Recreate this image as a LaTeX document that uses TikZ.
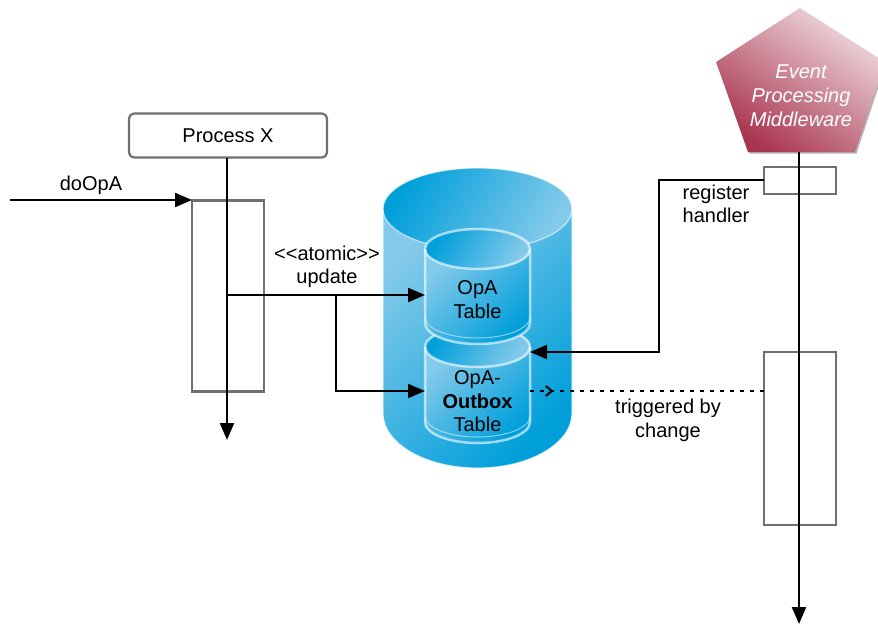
\documentclass[tikz,border=0pt]{standalone}
\usepackage{fontspec}
\setmainfont{Liberation Sans}
\usetikzlibrary{positioning,calc,arrows.meta,decorations.markings}
\definecolor{dblight}{HTML}{84CAEA}
\definecolor{dbdark}{HTML}{009FDA}
\definecolor{dbedge}{HTML}{FFFFFF}
\definecolor{epmlight}{HTML}{F0DDE1}
\definecolor{epmdark}{HTML}{A93550}
\definecolor{boxgray}{HTML}{707070}
\tikzstyle{flow} = [draw,line width=2.2pt,-{Triangle[length=17pt,width=14pt]}]
\tikzstyle{lifebox} = [draw=boxgray,line width=2.2pt,inner sep=0pt,outer sep=0pt,minimum width=72pt]
\tikzstyle{procbox} = [draw=boxgray,line width=2.2pt,rounded corners=5pt,inner sep=0pt,outer sep=0pt,minimum width=198pt,minimum height=44pt]
\tikzstyle{tablearea} = [inner sep=0pt,outer sep=0pt,minimum width=105pt]
\tikzstyle{label} = [align=center,inner sep=0pt]
\tikzstyle{trigger} = [draw,line width=2.2pt,dash pattern=on 4pt off 6pt,postaction={decorate},decoration={markings,mark=at position 0.1 with {\arrow[solid,line width=2pt]{Straight Barb[length=6pt,width=10pt]}}}]
% x, half width, top y, top radius, bottom y, bottom radius, edge width
\newcommand{\dbcyl}[7]{
  \shade[top color=dblight,bottom color=dbdark,shading angle=45] ({#1-#2},#3) -- ({#1-#2},#5) arc[start angle=180,end angle=360,x radius=#2pt,y radius=#6pt] -- ({#1+#2},#3) -- cycle;
  \shade[top color=dbdark,bottom color=dblight,shading angle=60] (#1,#3) ellipse[x radius=#2pt,y radius=#4pt];
  \begin{scope}
  \path[draw=dbedge,draw opacity=0.6,line width=#7pt] ({#1-#2},#3) -- ({#1-#2},#5) arc[start angle=180,end angle=360,x radius=#2pt,y radius=#6pt] -- ({#1+#2},#3);
  \path[draw=dbedge,draw opacity=0.6,line width=#7pt] (#1,#3) ellipse[x radius=#2pt,y radius=#4pt];
  \end{scope}
}
\begin{document}
\begin{tikzpicture}[x=1pt,y=-1pt,every node/.style={font=\fontsize{20}{23.5}\selectfont}]
  \clip (0,0) rectangle (878,625);
  % database
  \dbcyl{477.5}{94.5}{209}{41}{413}{55}{1.2}
  \dbcyl{477.5}{52.5}{347}{20}{422}{21}{2.5}
  \path[draw=dbedge,draw opacity=0.5,line width=1pt] (425,416) arc[start angle=180,end angle=360,x radius=52.5pt,y radius=21pt];
  \dbcyl{477.5}{52.5}{249}{20}{323}{21}{2.5}
  \path[draw=dbedge,draw opacity=0.5,line width=1pt] (425,317) arc[start angle=180,end angle=360,x radius=52.5pt,y radius=21pt];
  \node[tablearea] (opatable) at (477.5,295) {};
  \node[tablearea,minimum height=78pt] (outbox) at (477.5,391) {};
  \node[label] (opatext) at (477.5,299.5) {OpA\\Table};
  \node[label] (outtext) at (477.5,401.5) {OpA-\\\textbf{Outbox}\\Table};
  % middleware
  \fill[black!30] (801,10) -- (886,64) -- (856.5,153.5) -- (749.5,153.5) -- (717.5,64) -- cycle;
  \shade[top color=epmlight,bottom color=epmdark,shading angle=-35] (800,8) -- (885,62) -- (855,152) -- (748,152) -- (716,62) -- cycle;
  \node[label,text=white,font=\fontsize{20}{24}\selectfont\itshape,minimum width=120pt,minimum height=112pt] (epm) at (801,96) {Event\\Processing\\Middleware};
  % process
  \node[procbox] (procx) at (228,135.5) {Process X};
  \node[lifebox,minimum height=191pt] (actbox) [below = 43pt of procx] {};
  \node[lifebox,minimum height=27pt] (regbox) at (800,180.5) {};
  \node[lifebox,minimum height=173pt] (trigbox) [below = 158pt of regbox] {};
  \coordinate (procend) at (227,440);
  \coordinate (epmend) at (799,624);
  \coordinate (dostart) at (10,200);
  \coordinate (opafork) at (227,295);
  \coordinate (outfork) at (336,295);
  \coordinate (regturn) at (659,180);
  \draw[flow] (procx.south -| procend) -- (procend);
  \draw[flow] (epm.south -| epmend) -- (epmend);
  \draw[flow] (dostart) -- (dostart -| actbox.west);
  \draw[flow] (opafork) -- (opatable.west);
  \draw[flow] (outfork) |- (outbox.west);
  \draw[flow] (regbox.west |- regturn) -- (regturn) |- (outbox.north east);
  \path[trigger] (outbox.east) -- (outbox.east -| trigbox.west);
  \node[label] (dolabel) at (91,185) {doOpA};
  \node[label] (updlabel) at (327,267) {<{}<atomic>{}>\\update};
  \node[label] (reglabel) at (716,204) {register\\handler};
  \node[label] (triglabel) at (668,420.5) {triggered by\\change};
\end{tikzpicture}
\end{document}
